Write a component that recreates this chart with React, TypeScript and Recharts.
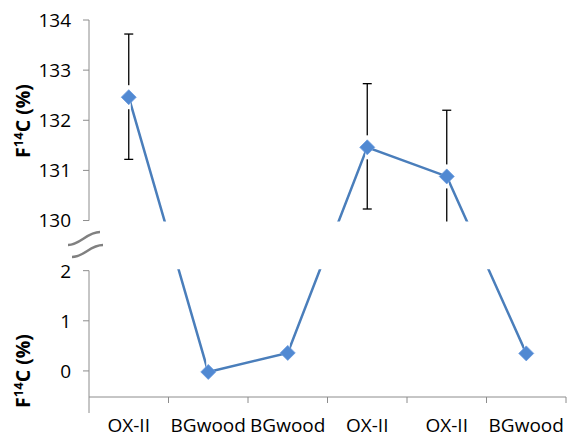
import { ErrorBar, Line, LineChart, ReferenceArea, ReferenceLine, XAxis, YAxis } from 'recharts'

// samples along the x axis
const categories = ['OX-II', 'BGwood', 'BGwood', 'OX-II', 'OX-II', 'BGwood']
// F14C in %
const f14c = [132.46, -0.02, 0.36, 131.46, 130.88, 0.35]
// error bars (minus / plus), only on the OX-II standards
const errMinus = [1.24, null, null, 1.23, 1.32, null]
const errPlus = [1.26, null, null, 1.27, 1.32, null]
// tick values shown on the (broken) y axis
const yTickValues = [0, 1, 2, 130, 131, 132, 133, 134]

// broken axis: everything above BREAK_AT is shifted down so 130 sits one unit above 2
const BREAK_AT = 100
const BREAK_SHIFT = 127
const toAxis = (v: number) => (v >= BREAK_AT ? v - BREAK_SHIFT : v)

const WIDTH = 567
const HEIGHT = 437
const MARGIN = { top: 20, right: 1, bottom: 0, left: 0 }
const Y_AXIS_W = 89
const X_AXIS_H = 40
const Y_MIN = -0.52
const BAND = (WIDTH - MARGIN.left - MARGIN.right - Y_AXIS_W) / categories.length

const AXIS = '#8c8c8c'
const BLUE = '#4a7ebb'
const FONT = "'Open Sans', sans-serif"
const TICK_SIZE = 19

const data = categories.map((name, i) => ({
  pos: i + 0.5,
  name,
  value: toAxis(f14c[i]),
  err: errMinus[i] == null ? null : [errMinus[i], errPlus[i]],
}))

const yTicks = yTickValues.map(toAxis)
const yLabel = (t: number) => {
  const idx = yTicks.indexOf(t)
  return idx >= 0 ? String(yTickValues[idx]) : ''
}

function XTick(props: any) {
  const { x, y, index } = props
  const label = categories[index]
  return (
    <g>
      <line x1={x} x2={x} y1={y} y2={y + (index === 0 ? 16 : 6)} stroke={AXIS} strokeWidth={1} />
      {label && (
        <text x={x + BAND / 2} y={y + 35} textAnchor="middle" fontSize={TICK_SIZE} fontFamily={FONT} fill="#000">
          {label}
        </text>
      )}
    </g>
  )
}

function YTick(props: any) {
  const { x, y, payload } = props
  const lower = payload.value < toAxis(BREAK_AT)
  return (
    <text x={x - (lower ? 6 : 0)} y={y} dy="0.36em" textAnchor="end" fontSize={TICK_SIZE} fontFamily={FONT} fill="#000">
      {yLabel(payload.value)}
    </text>
  )
}

function Diamond(props: any) {
  const { cx, cy, index } = props
  if (cx == null || cy == null) return <g key={index} />
  return (
    <g key={index}>
      <rect x={cx - 2} y={cy - 12} width={4} height={24} fill="#fff" />
      <polygon
        points={`${cx},${cy - 7.5} ${cx + 7.5},${cy} ${cx},${cy + 7.5} ${cx - 7.5},${cy}`}
        fill="#5189d2"
        stroke="#6a9be0"
        strokeWidth={0.8}
      />
    </g>
  )
}

function AxisTitle({ cy }: { cy: number }) {
  return (
    <text
      transform={`translate(30, ${cy}) rotate(-90)`}
      textAnchor="middle"
      fontSize={19.5}
      fontWeight="bold"
      fontFamily={FONT}
      fill="#000"
    >
      F<tspan fontSize={13} dy={-7}>14</tspan>
      <tspan dy={7}>C (%)</tspan>
    </text>
  )
}

export default function App() {
  return (
    <div style={{ position: 'absolute', left: 0, top: 0, width: WIDTH, height: HEIGHT, background: '#fff' }}>
      <LineChart width={WIDTH} height={HEIGHT} data={data} margin={MARGIN}>
        <XAxis
          type="number"
          dataKey="pos"
          domain={[0, categories.length]}
          ticks={categories.map((_, i) => i).concat(categories.length)}
          interval={0}
          allowDataOverflow
          height={X_AXIS_H}
          axisLine={{ stroke: AXIS, strokeWidth: 1 }}
          tickLine={false}
          tickSize={0}
          tickMargin={0}
          tick={<XTick />}
        />
        <YAxis
          type="number"
          domain={[Y_MIN, toAxis(134)]}
          ticks={yTicks}
          interval={0}
          allowDataOverflow
          width={Y_AXIS_W}
          axisLine={false}
          tickLine={{ stroke: AXIS, strokeWidth: 1 }}
          tickSize={6}
          tickMargin={12}
          tick={<YTick />}
        />
        <ReferenceLine segment={[{ x: 0, y: toAxis(130) }, { x: 0, y: toAxis(134) }]} stroke={AXIS} strokeWidth={1} />
        <ReferenceLine segment={[{ x: 0, y: Y_MIN }, { x: 0, y: 2 }]} stroke={AXIS} strokeWidth={1} />
        <Line
          dataKey="value"
          stroke={BLUE}
          strokeWidth={2.5}
          dot={(p: any) => <Diamond key={p.index} {...p} />}
          activeDot={false}
          isAnimationActive={false}
        >
          <ErrorBar dataKey="err" direction="y" width={4.5} stroke="#000" strokeWidth={1.3} />
        </Line>
        <ReferenceArea
          x1={-0.2}
          x2={categories.length}
          y1={2.03}
          y2={toAxis(130) - 0.02}
          fill="#fff"
          fillOpacity={1}
          stroke="none"
          ifOverflow="visible"
          zIndex={900}
        />
      </LineChart>
      <svg width={WIDTH} height={HEIGHT} style={{ position: 'absolute', left: 0, top: 0, pointerEvents: 'none' }}>
        <AxisTitle cy={121} />
        <AxisTitle cy={371} />
        <path d="M 68 245 C 80 245, 87 232, 100 232" fill="none" stroke="#808080" strokeWidth={2.5} />
        <path d="M 72 257 C 84 257, 90 245, 103 245" fill="none" stroke="#808080" strokeWidth={2.5} />
      </svg>
    </div>
  )
}
